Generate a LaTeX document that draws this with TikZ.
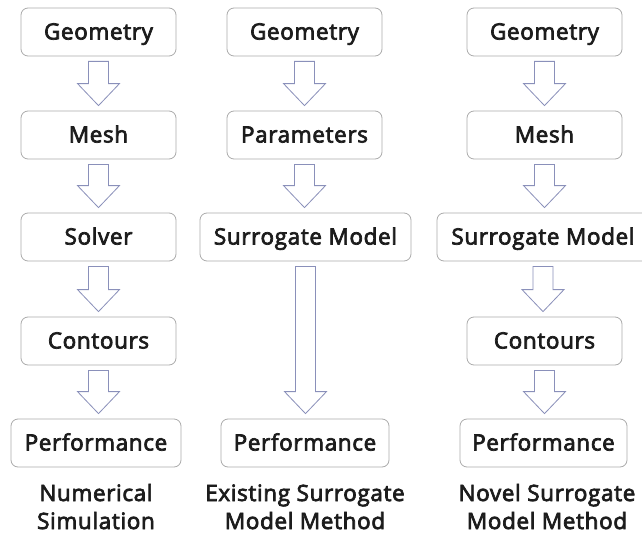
\documentclass[tikz,border=0pt]{standalone}
\usepackage{fontspec}
\setmainfont{Open Sans}
\newfontfamily\labelfont{Open Sans}[FakeBold=3.2, LetterSpace=2.8]
\usetikzlibrary{calc}

\definecolor{boxline}{HTML}{ABABAB}
\definecolor{arrowline}{HTML}{8A90BA}
\definecolor{inktext}{HTML}{1C1C1C}

\tikzset{
  stepbox/.style={draw=boxline, line width=0.8pt, rounded corners=7pt,
    fill=white, minimum height=48pt, inner sep=0pt, text=inktext,
    text height=15pt, text depth=0pt,
    font=\labelfont\fontsize{22.5}{26}\selectfont},
  caption/.style={align=center, text=inktext, inner sep=0pt,
    font=\labelfont\fontsize{22.5}{28}\selectfont},
  hollowarrow/.style={draw=arrowline, line width=0.8pt, fill=white, line join=miter}
}

% hollow block arrow from the bottom of #1 to the top of #2
\newcommand\blockarrow[2]{%
  \draw[hollowarrow] let \p1=(#1.south), \p2=(#2.north) in
    (\x1-10pt,\y1-5pt) -- (\x1-10pt,\y2+27pt) -- (\x1-21pt,\y2+27pt) --
    (\x1,\y2+5pt) -- (\x1+21pt,\y2+27pt) -- (\x1+10pt,\y2+27pt) --
    (\x1+10pt,\y1-5pt) -- cycle;}

\begin{document}
\begin{tikzpicture}[x=1pt,y=-1pt]
\useasboundingbox (0,0) rectangle (642,535);
\fill[white] (0,0) rectangle (642,535);

% Numerical simulation
\node[stepbox, minimum width=155pt] (g1) at (98.5,32) {Geometry};
\node[stepbox, minimum width=155pt] (m1) at (98.5,135) {Mesh};
\node[stepbox, minimum width=155pt] (s1) at (98.5,237) {Solver};
\node[stepbox, minimum width=155pt] (c1) at (98.5,341) {Contours};
\node[stepbox, minimum width=170pt] (p1) at (96,443) {Performance};

% Existing surrogate model method
\node[stepbox, minimum width=155pt] (g2) at (304.5,32) {Geometry};
\node[stepbox, minimum width=155pt] (a2) at (304.5,135) {Parameters};
\node[stepbox, minimum width=211pt] (s2) at (305.5,237) {Surrogate Model};
\node[stepbox, minimum width=168pt] (p2) at (305,443) {Performance};

% Novel surrogate model method
\node[stepbox, minimum width=155pt] (g3) at (544.5,32) {Geometry};
\node[stepbox, minimum width=155pt] (m3) at (544.5,135) {Mesh};
\node[stepbox, minimum width=212pt] (s3) at (543,237) {Surrogate Model};
\node[stepbox, minimum width=155pt] (c3) at (544.5,341) {Contours};
\node[stepbox, minimum width=167pt] (p3) at (543.5,443) {Performance};

\blockarrow{g1}{m1}
\blockarrow{m1}{s1}
\blockarrow{s1}{c1}
\blockarrow{c1}{p1}

\blockarrow{g2}{a2}
\blockarrow{a2}{s2}
\blockarrow{s2}{p2}

\blockarrow{g3}{m3}
\blockarrow{m3}{s3}
\blockarrow{s3}{c3}
\blockarrow{c3}{p3}

\node[caption, anchor=base] (t1) at (96,529) {Numerical\\Simulation};
\node[caption, anchor=base] (t2) at (305,529) {Existing Surrogate\\Model Method};
\node[caption, anchor=base] (t3) at (547,529) {Novel Surrogate\\Model Method};
\end{tikzpicture}
\end{document}
